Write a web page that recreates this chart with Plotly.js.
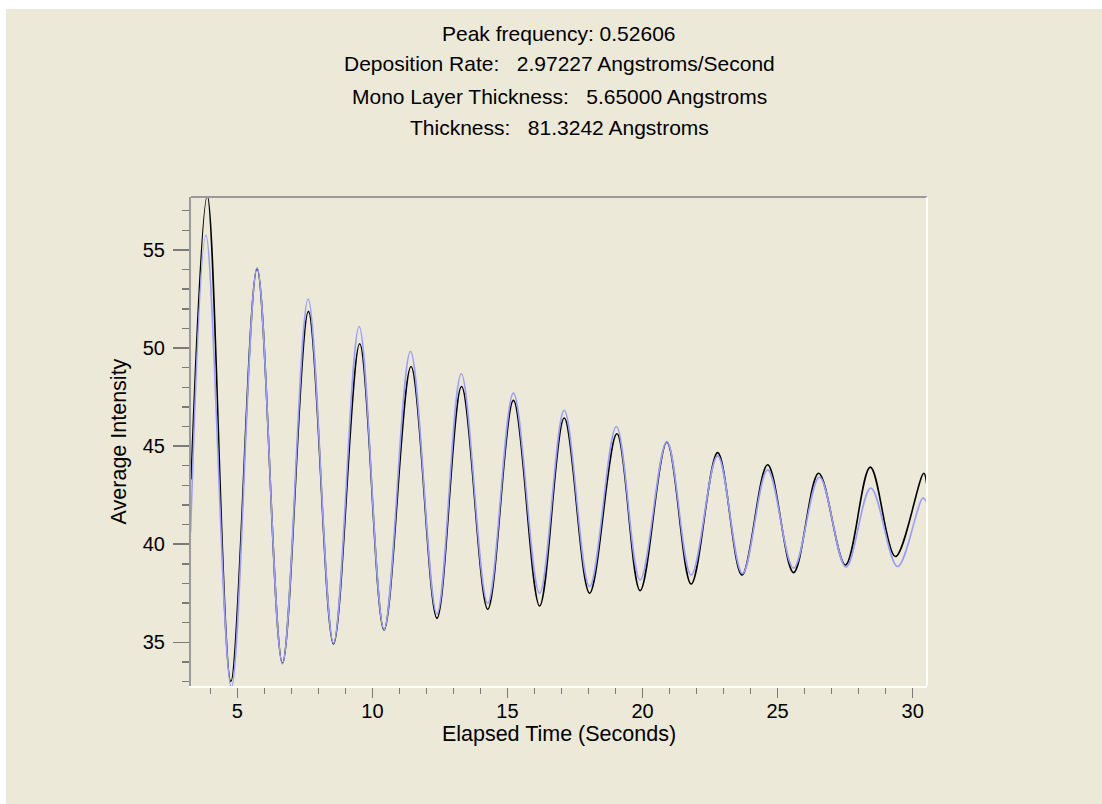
<!DOCTYPE html>
<html>
<head>
<meta charset="utf-8">
<script src="https://cdn.plot.ly/plotly-3.0.1.min.js"></script>
<style>
  html, body { margin: 0; padding: 0; background: #ffffff; width: 1102px; height: 804px; overflow: hidden; }
  #chart { position: absolute; left: 6px; top: 9px; width: 1096px; height: 795px; }
</style>
</head>
<body>
<div id="chart"></div>
<script>
// Measured intensity (black), read at start, extrema and end
const measuredTime = [3.29, 3.89, 4.76, 5.73, 6.67, 7.63, 8.56, 9.53, 10.43, 11.43, 12.39, 13.30, 14.27, 15.22, 16.19,
  17.10, 18.04, 19.05, 19.91, 20.90, 21.80, 22.78, 23.68, 24.63, 25.59, 26.52, 27.51, 28.43, 29.36, 30.41, 30.53];
const measuredIntensity = [43.3, 57.75, 33.0, 54.05, 33.93, 51.87, 34.91, 50.22, 35.63, 49.06, 36.22, 48.04, 36.68, 47.33, 36.85,
  46.43, 37.5, 45.63, 37.63, 45.2, 37.97, 44.67, 38.43, 44.05, 38.55, 43.62, 38.94, 43.93, 39.37, 43.62, 42.94];

// Fitted intensity (blue)
const fitTime = [3.27, 3.84, 4.78, 5.73, 6.67, 7.62, 8.56, 9.51, 10.43, 11.41, 12.39, 13.29, 14.27, 15.22, 16.19,
  17.10, 18.04, 19.03, 19.91, 20.90, 21.80, 22.78, 23.70, 24.63, 25.59, 26.55, 27.53, 28.45, 29.44, 30.38, 30.53];
const fitIntensity = [40.6, 55.75, 32.7, 54.1, 33.9, 52.5, 34.95, 51.1, 35.65, 49.83, 36.44, 48.69, 36.99, 47.70, 37.5,
  46.82, 37.84, 46.0, 38.18, 45.23, 38.43, 44.5, 38.5, 43.79, 38.78, 43.42, 38.83, 42.86, 38.86, 42.35, 42.09];

const titleLines = [
  "Peak frequency: 0.52606",
  "Deposition Rate:\u00a0\u00a0 2.97227 Angstroms/Second",
  "Mono Layer Thickness:\u00a0\u00a0 5.65000 Angstroms",
  "Thickness:\u00a0\u00a0 81.3242 Angstroms"
];
const titleY = [1.334, 1.272, 1.205, 1.143];

const xTitle = "Elapsed Time (Seconds)";
const yTitle = "Average Intensity";

const bg = "#ECE9D8";
const fontFamily = "Liberation Sans, Arial, sans-serif";

const traces = [
  {
    x: measuredTime, y: measuredIntensity, type: "scatter", mode: "lines",
    line: { color: "#000000", width: 1.6, shape: "spline", smoothing: 1 },
    hoverinfo: "skip", showlegend: false
  },
  {
    x: fitTime, y: fitIntensity, type: "scatter", mode: "lines",
    line: { color: "#9c9cff", width: 1.6, shape: "spline", smoothing: 1 },
    hoverinfo: "skip", showlegend: false
  }
];

const layout = {
  width: 1096, height: 795,
  paper_bgcolor: bg, plot_bgcolor: bg,
  margin: { l: 185, r: 175, t: 188, b: 118 },
  font: { family: fontFamily, size: 20, color: "#000000" },
  showlegend: false,
  xaxis: {
    range: [3.285, 30.53], dtick: 5, tick0: 0,
    ticks: "outside", ticklen: 10, tickwidth: 1.5, tickcolor: "#7a7a7a",
    minor: { dtick: 1, tick0: 0, ticks: "outside", ticklen: 6, tickwidth: 1.5, tickcolor: "#7a7a7a" },
    showgrid: false, zeroline: false,
    showline: true, linecolor: "#ffffff", linewidth: 2,
    ticklabelstandoff: -4,
    tickfont: { family: fontFamily, size: 20, color: "#000" },
    title: { text: xTitle, font: { family: fontFamily, size: 21.5, color: "#000" }, standoff: 0 },
    fixedrange: true
  },
  yaxis: {
    range: [32.77, 57.70], dtick: 5, tick0: 0,
    ticks: "outside", ticklen: 16, tickwidth: 1.5, tickcolor: "#7a7a7a",
    minor: { dtick: 1, tick0: 0, ticks: "outside", ticklen: 7, tickwidth: 1.5, tickcolor: "#7a7a7a" },
    showgrid: false, zeroline: false,
    showline: true, linecolor: "#9a9a9a", linewidth: 2,
    ticklabelstandoff: 4,
    tickfont: { family: fontFamily, size: 20, color: "#000" },
    title: { text: yTitle, font: { family: fontFamily, size: 21.5, color: "#000" }, standoff: 10 },
    fixedrange: true
  },
  shapes: [
    { type: "line", xref: "paper", yref: "paper", x0: 0, x1: 1, y0: 1, y1: 1, line: { color: "#9a9a9a", width: 2 } },
    { type: "line", xref: "paper", yref: "paper", x0: 1, x1: 1, y0: 0, y1: 1, line: { color: "#ffffff", width: 2 } }
  ],
  annotations: titleLines.map((t, i) => ({
    text: t, xref: "paper", yref: "paper", x: 0.5, y: titleY[i],
    xanchor: "center", yanchor: "middle", showarrow: false,
    font: { family: fontFamily, size: 21, color: "#000" }
  }))
};

Plotly.newPlot("chart", traces, layout, { displayModeBar: false, staticPlot: true });
</script>
</body>
</html>
